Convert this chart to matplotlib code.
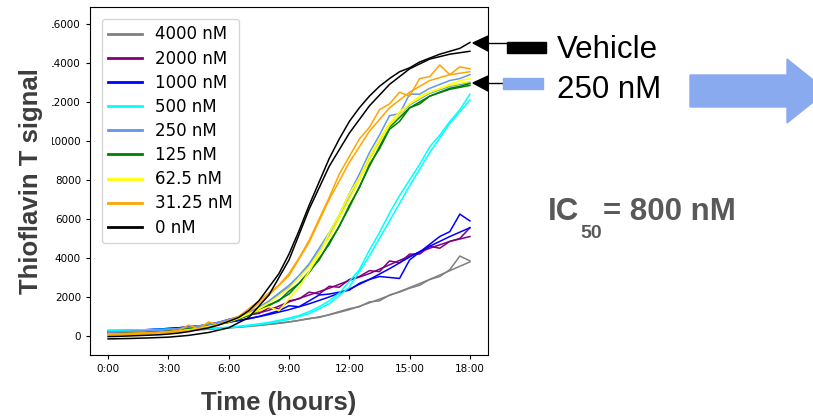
import numpy as np
import matplotlib
matplotlib.use("Agg")
import matplotlib.pyplot as plt
from matplotlib.patches import Polygon, Rectangle

# time grids (hours)
fit_hours = [0, 1, 2, 3, 4, 5, 6, 7, 8, 9, 10, 11, 12, 13, 14, 15, 16, 17, 18]
data_hours = [0, 0.5, 1, 1.5, 2, 2.5, 3, 3.5, 4, 4.5, 5, 5.5, 6, 6.5, 7, 7.5, 8, 8.5,
              9, 9.5, 10, 10.5, 11, 11.5, 12, 12.5, 13, 13.5, 14, 14.5, 15, 15.5,
              16, 16.5, 17, 17.5, 18]

labels = ["4000 nM", "2000 nM", "1000 nM", "500 nM", "250 nM",
          "125 nM", "62.5 nM", "31.25 nM", "0 nM"]
colors = ["gray", "purple", "blue", "cyan", "cornflowerblue",
          "green", "yellow", "orange", "black"]

# smooth fitted curves
fit_4000 = [200, 210, 230, 260, 300, 350, 420, 500, 600, 720, 880, 1080, 1350, 1700, 2080, 2480, 2900, 3350, 3800]
fit_2000 = [150, 180, 230, 300, 420, 580, 800, 1050, 1320, 1750, 2100, 2450, 2850, 3200, 3650, 4100, 4500, 4850, 5100]
fit_1000 = [250, 280, 320, 380, 460, 560, 700, 880, 1100, 1350, 1650, 2000, 2400, 2900, 3450, 4050, 4600, 5100, 5550]
fit_500 = [300, 310, 320, 340, 360, 390, 430, 520, 650, 850, 1150, 1650, 2500, 4100, 5900, 7700, 9400, 10900, 12100]
fit_250 = [200, 220, 260, 320, 420, 580, 800, 1180, 1750, 2500, 3600, 5100, 7050, 9050, 10800, 11850, 12450, 12800, 13000]
fit_125 = [100, 130, 170, 230, 330, 480, 700, 1050, 1550, 2150, 3250, 4700, 6600, 8700, 10700, 11700, 12300, 12650, 12850]
fit_62 = [50, 80, 130, 200, 300, 470, 720, 1120, 1700, 2450, 3550, 5050, 7000, 9000, 10800, 11900, 12500, 12850, 13050]
fit_31 = [50, 80, 120, 180, 280, 450, 750, 1250, 2100, 3100, 4800, 7000, 8900, 10500, 11700, 12500, 13100, 13400, 13550]
fit_0 = [-150, -130, -100, -60, 30, 180, 420, 950, 2100, 3900, 6500, 8700, 10400, 11800, 12900, 13700, 14200, 14450, 14600]

# raw measurements
data_4000 = [180, 190, 200, 210, 220, 240, 260, 270, 300, 320, 350, 390, 420, 450, 500, 540, 600, 650,
             720, 800, 900, 950, 1100, 1250, 1400, 1500, 1750, 1800, 2100, 2250, 2450, 2600,
             2900, 3050, 3400, 4100, 3850]
data_2000 = [160, 170, 190, 200, 240, 260, 310, 350, 430, 500, 600, 700, 850, 950, 1150, 1150, 1450, 1400,
             1800, 1900, 2250, 2150, 2550, 2500, 2900, 3050, 3350, 3300, 3850, 3750, 4200, 4200,
             4600, 4500, 4850, 5000, 5550]
data_1000 = [260, 270, 290, 300, 330, 350, 390, 420, 470, 520, 560, 620, 720, 800, 900, 1000, 1150, 1300,
             1550, 1500, 1800, 2100, 2150, 2250, 2350, 2700, 2900, 3050, 3000, 2950, 3900, 4300,
             4700, 5100, 5350, 6250, 5900]
data_500 = [290, 300, 300, 310, 320, 330, 340, 350, 360, 380, 400, 420, 450, 500, 560, 620, 700, 800,
            920, 1050, 1250, 1500, 1800, 2200, 2800, 3400, 4400, 5300, 6300, 7200, 8000, 8800,
            9700, 10300, 11000, 11600, 12400]
data_250 = [220, 220, 240, 250, 280, 300, 340, 380, 450, 520, 600, 700, 850, 1000, 1250, 1450, 1800, 2200,
            2600, 3100, 3700, 4500, 5300, 6200, 7300, 8300, 9400, 10300, 11300, 11400, 12400, 12400,
            12700, 12900, 13100, 13200, 13400]
data_125 = [110, 120, 140, 150, 180, 200, 240, 280, 380, 400, 520, 600, 750, 880, 1100, 1300, 1600, 1800,
            2300, 2700, 3300, 3900, 4800, 5600, 6700, 7600, 8800, 9600, 10600, 11000, 11700, 11900,
            12300, 12500, 12700, 12800, 12950]
data_62 = [60, 70, 90, 100, 140, 160, 210, 250, 320, 380, 500, 600, 760, 900, 1150, 1300, 1500, 1300,
           1900, 2500, 3300, 4200, 5300, 6200, 7300, 8100, 9200, 10100, 10900, 11500, 11900, 12300,
           12500, 12700, 12900, 13100, 13200]
data_31 = [120, 120, 140, 160, 170, 200, 230, 280, 560, 380, 720, 560, 800, 1000, 1400, 1800, 2200, 2600,
           3200, 4000, 4900, 6000, 7100, 8300, 9200, 10100, 10700, 11600, 11900, 12500, 12300, 13200,
           13300, 13900, 13400, 13800, 13700]
data_0 = [-30, -20, 0, 20, 40, 60, 100, 150, 220, 320, 420, 560, 750, 950, 1300, 1800, 2500, 3200,
          4200, 5400, 6700, 7900, 9100, 10100, 11000, 11700, 12300, 12800, 13200, 13550, 13750, 14050,
          14250, 14450, 14600, 14750, 15050]

fits = [fit_4000, fit_2000, fit_1000, fit_500, fit_250, fit_125, fit_62, fit_31, fit_0]
datas = [data_4000, data_2000, data_1000, data_500, data_250, data_125, data_62, data_31, data_0]

tick_hours = [0, 3, 6, 9, 12, 15, 18]
tick_labels = ["0:00", "3:00", "6:00", "9:00", "12:00", "15:00", "18:00"]
y_ticks = [0, 2000, 4000, 6000, 8000, 10000, 12000, 14000, 16000]

W, H = 813, 416
fig = plt.figure(figsize=(W / 100, H / 100), dpi=100)
ax = fig.add_axes([90 / W, 61 / H, 398 / W, 348 / H])

for fit, data, col, lab in zip(fits, datas, colors, labels):
    ax.plot(data_hours, data, color=col, lw=1.1)
    ax.plot(fit_hours, fit, color=col, lw=1.1, label=lab)

ax.set_xlim(-0.9, 18.9)
ax.set_ylim(-975, 16870)
ax.set_xticks(tick_hours)
ax.set_xticklabels(tick_labels)
ax.set_yticks(y_ticks)
ax.tick_params(labelsize=7.5, length=3)

leg = ax.legend(loc="upper left", fontsize=12, labelspacing=0.37,
                handlelength=2, borderaxespad=0.7)
for line in leg.get_lines():
    line.set_linewidth(2)

# overlay in pixel coordinates for the slide annotations
ov = fig.add_axes([0, 0, 1, 1], zorder=5)
ov.set_xlim(0, W)
ov.set_ylim(H, 0)
ov.axis("off")
ov.patch.set_visible(False)

# the slide crops the left edge of the tick labels
ov.add_patch(Rectangle((0, 0), 51, H, color="white", zorder=1))

ov.text(31, 181, "Thioflavin T signal", rotation=90, ha="center", va="center",
        fontsize=18.5, fontweight="bold", family="Liberation Sans", color="#3d3d3d", zorder=2)
ov.text(279, 410, "Time (hours)", ha="center", va="baseline",
        fontsize=18.5, fontweight="bold", family="Liberation Sans", color="#3d3d3d", zorder=2)

# pointer arrows
ov.add_patch(Polygon([(473, 43), (488, 36), (488, 51)], color="black", zorder=2))
ov.plot([488, 507], [43, 43], color="black", lw=1, zorder=2)
ov.add_patch(Rectangle((507, 42), 39, 11, color="black", zorder=2))
ov.add_patch(Polygon([(473, 83), (488, 76), (488, 91)], color="black", zorder=2))
ov.plot([488, 503], [83, 83], color="black", lw=1, zorder=2)
ov.add_patch(Rectangle((503, 78), 40, 11, color="#8aaaf0", zorder=2))

ov.text(557, 58, "Vehicle", ha="left", va="baseline", fontsize=22.5,
        family="Liberation Sans", color="black")
ov.text(557, 98, "250 nM", ha="left", va="baseline", fontsize=22.5,
        family="Liberation Sans", color="black")

# big arrow
ov.add_patch(Polygon([(690, 75), (787, 75), (787, 59), (827, 91), (787, 123),
                      (787, 107), (690, 107)], color="#8aaaf0", zorder=2, clip_on=False))

ov.text(548, 220, "IC", ha="left", va="baseline", fontsize=22.5,
        fontweight="bold", family="Liberation Sans", color="#595959")
ov.text(580, 238, "50", ha="left", va="baseline", fontsize=14,
        fontweight="bold", family="Liberation Sans", color="#595959")
ov.text(603, 220, "= 800 nM", ha="left", va="baseline", fontsize=22.5,
        fontweight="bold", family="Liberation Sans", color="#595959")

fig.savefig("out.png", dpi=100)
